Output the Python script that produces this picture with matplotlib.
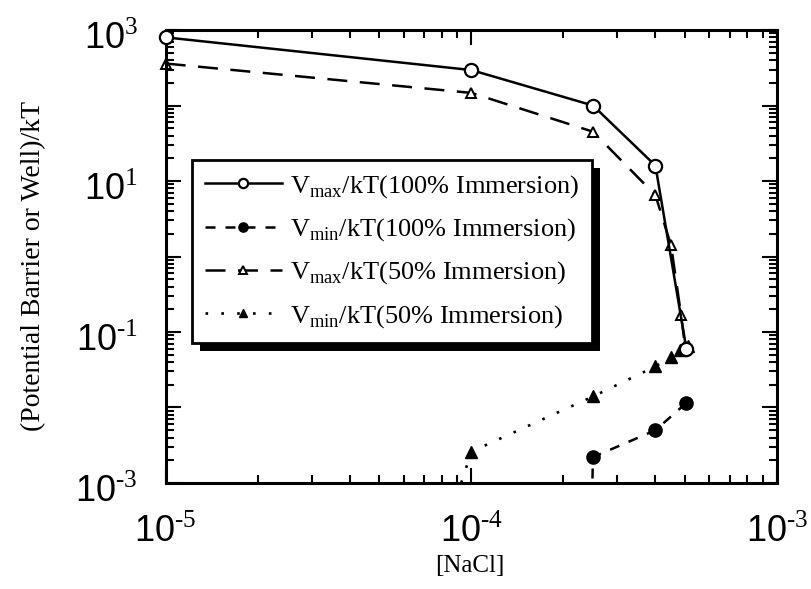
import matplotlib
matplotlib.use('Agg')
import matplotlib.pyplot as plt
import matplotlib.transforms as mtransforms
from matplotlib.ticker import LogLocator, FixedLocator, FuncFormatter, NullFormatter
from matplotlib.patches import Rectangle
import numpy as np

# [NaCl] concentrations and barrier / well depths (units of kT)
nacl_vmax100 = [1e-5, 1e-4, 2.5e-4, 4e-4, 5.05e-4]
vmax100 = [800, 295, 100, 16, 0.06]

nacl_vmin100 = [2.45e-4, 2.5e-4, 4e-4, 5.05e-4]
vmin100 = [1e-4, 0.0022, 0.005, 0.0115]

nacl_vmax50 = [1e-5, 1e-4, 2.5e-4, 4e-4, 4.5e-4, 4.85e-4, 5.0e-4]
vmax50 = [360, 147, 45, 6.5, 1.4, 0.17, 0.065]

nacl_vmin50 = [8.6e-5, 1e-4, 2.5e-4, 4e-4, 4.5e-4, 4.8e-4, 5.1e-4]
vmin50 = [4e-4, 0.0026, 0.014, 0.035, 0.047, 0.058, 0.065]

labels = [r'V$_{\mathrm{max}}$/kT(100% Immersion)',
          r'V$_{\mathrm{min}}$/kT(100% Immersion)',
          r'V$_{\mathrm{max}}$/kT(50% Immersion)',
          r'V$_{\mathrm{min}}$/kT(50% Immersion)']
ylabels_skip = [-2, 0, 2]

plt.rcParams['mathtext.fontset'] = 'custom'
plt.rcParams['mathtext.rm'] = 'Liberation Serif'
plt.rcParams['mathtext.sf'] = 'Liberation Sans'
plt.rcParams['font.family'] = 'Liberation Serif'

fig = plt.figure(figsize=(8.12, 5.89), dpi=100)
ax = fig.add_axes([0.204, 0.180, 0.753, 0.769])

ax.plot(nacl_vmax100, vmax100, '-', color='k', lw=1.8, marker='o', ms=9.5,
        mfc='white', mec='k', mew=1.6, label=labels[0], clip_on=False, zorder=3)
ax.plot(nacl_vmin100, vmin100, color='k', lw=1.8, ls=(0, (4, 4)), marker='o',
        ms=9.5, mfc='k', mec='k', label=labels[1])
ax.plot(nacl_vmax50, vmax50, color='k', lw=1.8, ls=(0, (8, 5)), marker='^',
        ms=7.5, mfc='white', mec='k', mew=1.4, label=labels[2], clip_on=False)
ax.plot(nacl_vmin50, vmin50, color='k', lw=1.9, ls=(0, (1, 5)), marker='^',
        ms=8, mfc='k', mec='k', label=labels[3])

ax.set_xscale('log')
ax.set_yscale('log')
ax.set_xlim(1e-5, 1e-3)
ax.set_ylim(1e-3, 1e3)


def sans_power(v, pos):
    e = int(round(np.log10(v)))
    return r'$\mathsf{10^{\text{%d}}}$' % e


def sans_power_odd(v, pos):
    e = int(round(np.log10(v)))
    if e in ylabels_skip:
        return ''
    return sans_power(v, pos)


ax.xaxis.set_major_locator(FixedLocator([1e-5, 1e-4, 1e-3]))
ax.yaxis.set_major_locator(FixedLocator([10.0 ** k for k in range(-3, 4)]))
ax.xaxis.set_major_formatter(FuncFormatter(sans_power))
ax.yaxis.set_major_formatter(FuncFormatter(sans_power_odd))
for axis in (ax.xaxis, ax.yaxis):
    axis.set_minor_locator(LogLocator(base=10, subs=np.arange(2, 10), numticks=20))
    axis.set_minor_formatter(NullFormatter())

ax.tick_params(which='both', direction='in', top=True, right=True, width=1.5,
               labelsize=26, colors='k')
ax.tick_params(which='major', length=11)
ax.tick_params(which='minor', length=6)
ax.tick_params(axis='x', pad=23)
ax.tick_params(axis='y', pad=20)
for s in ax.spines.values():
    s.set_linewidth(2.2)

# nudge the y tick labels down a little
shift = mtransforms.ScaledTranslation(0, -4 / 72, fig.dpi_scale_trans)
for lab in ax.get_yticklabels():
    lab.set_transform(lab.get_transform() + shift)

ax.set_xlabel('[NaCl]', fontsize=18)
ax.set_ylabel('(Potential Barrier or Well)/kT', fontsize=20)
ax.xaxis.set_label_coords(0.497, -0.16)
ax.yaxis.set_label_coords(-0.196, 0.48)

leg = ax.legend(loc='upper left', bbox_to_anchor=(0.043, 0.713), borderaxespad=0,
                fontsize=19, frameon=True, fancybox=False, framealpha=1,
                handlelength=2.9, handletextpad=0.3, labelspacing=0.62,
                borderpad=0.5, markerscale=0.7)
leg.get_frame().set_edgecolor('k')
leg.get_frame().set_linewidth(2.0)
leg.set_zorder(6)

# heavy drop shadow under the legend box
fig.canvas.draw()
bb = leg.get_window_extent()
shadow = Rectangle((bb.x0 + 8, bb.y0 - 8), bb.width, bb.height, facecolor='k',
                   edgecolor='none', transform=None, zorder=5.5)
ax.add_artist(shadow)

fig.savefig('out.png', dpi=100)
